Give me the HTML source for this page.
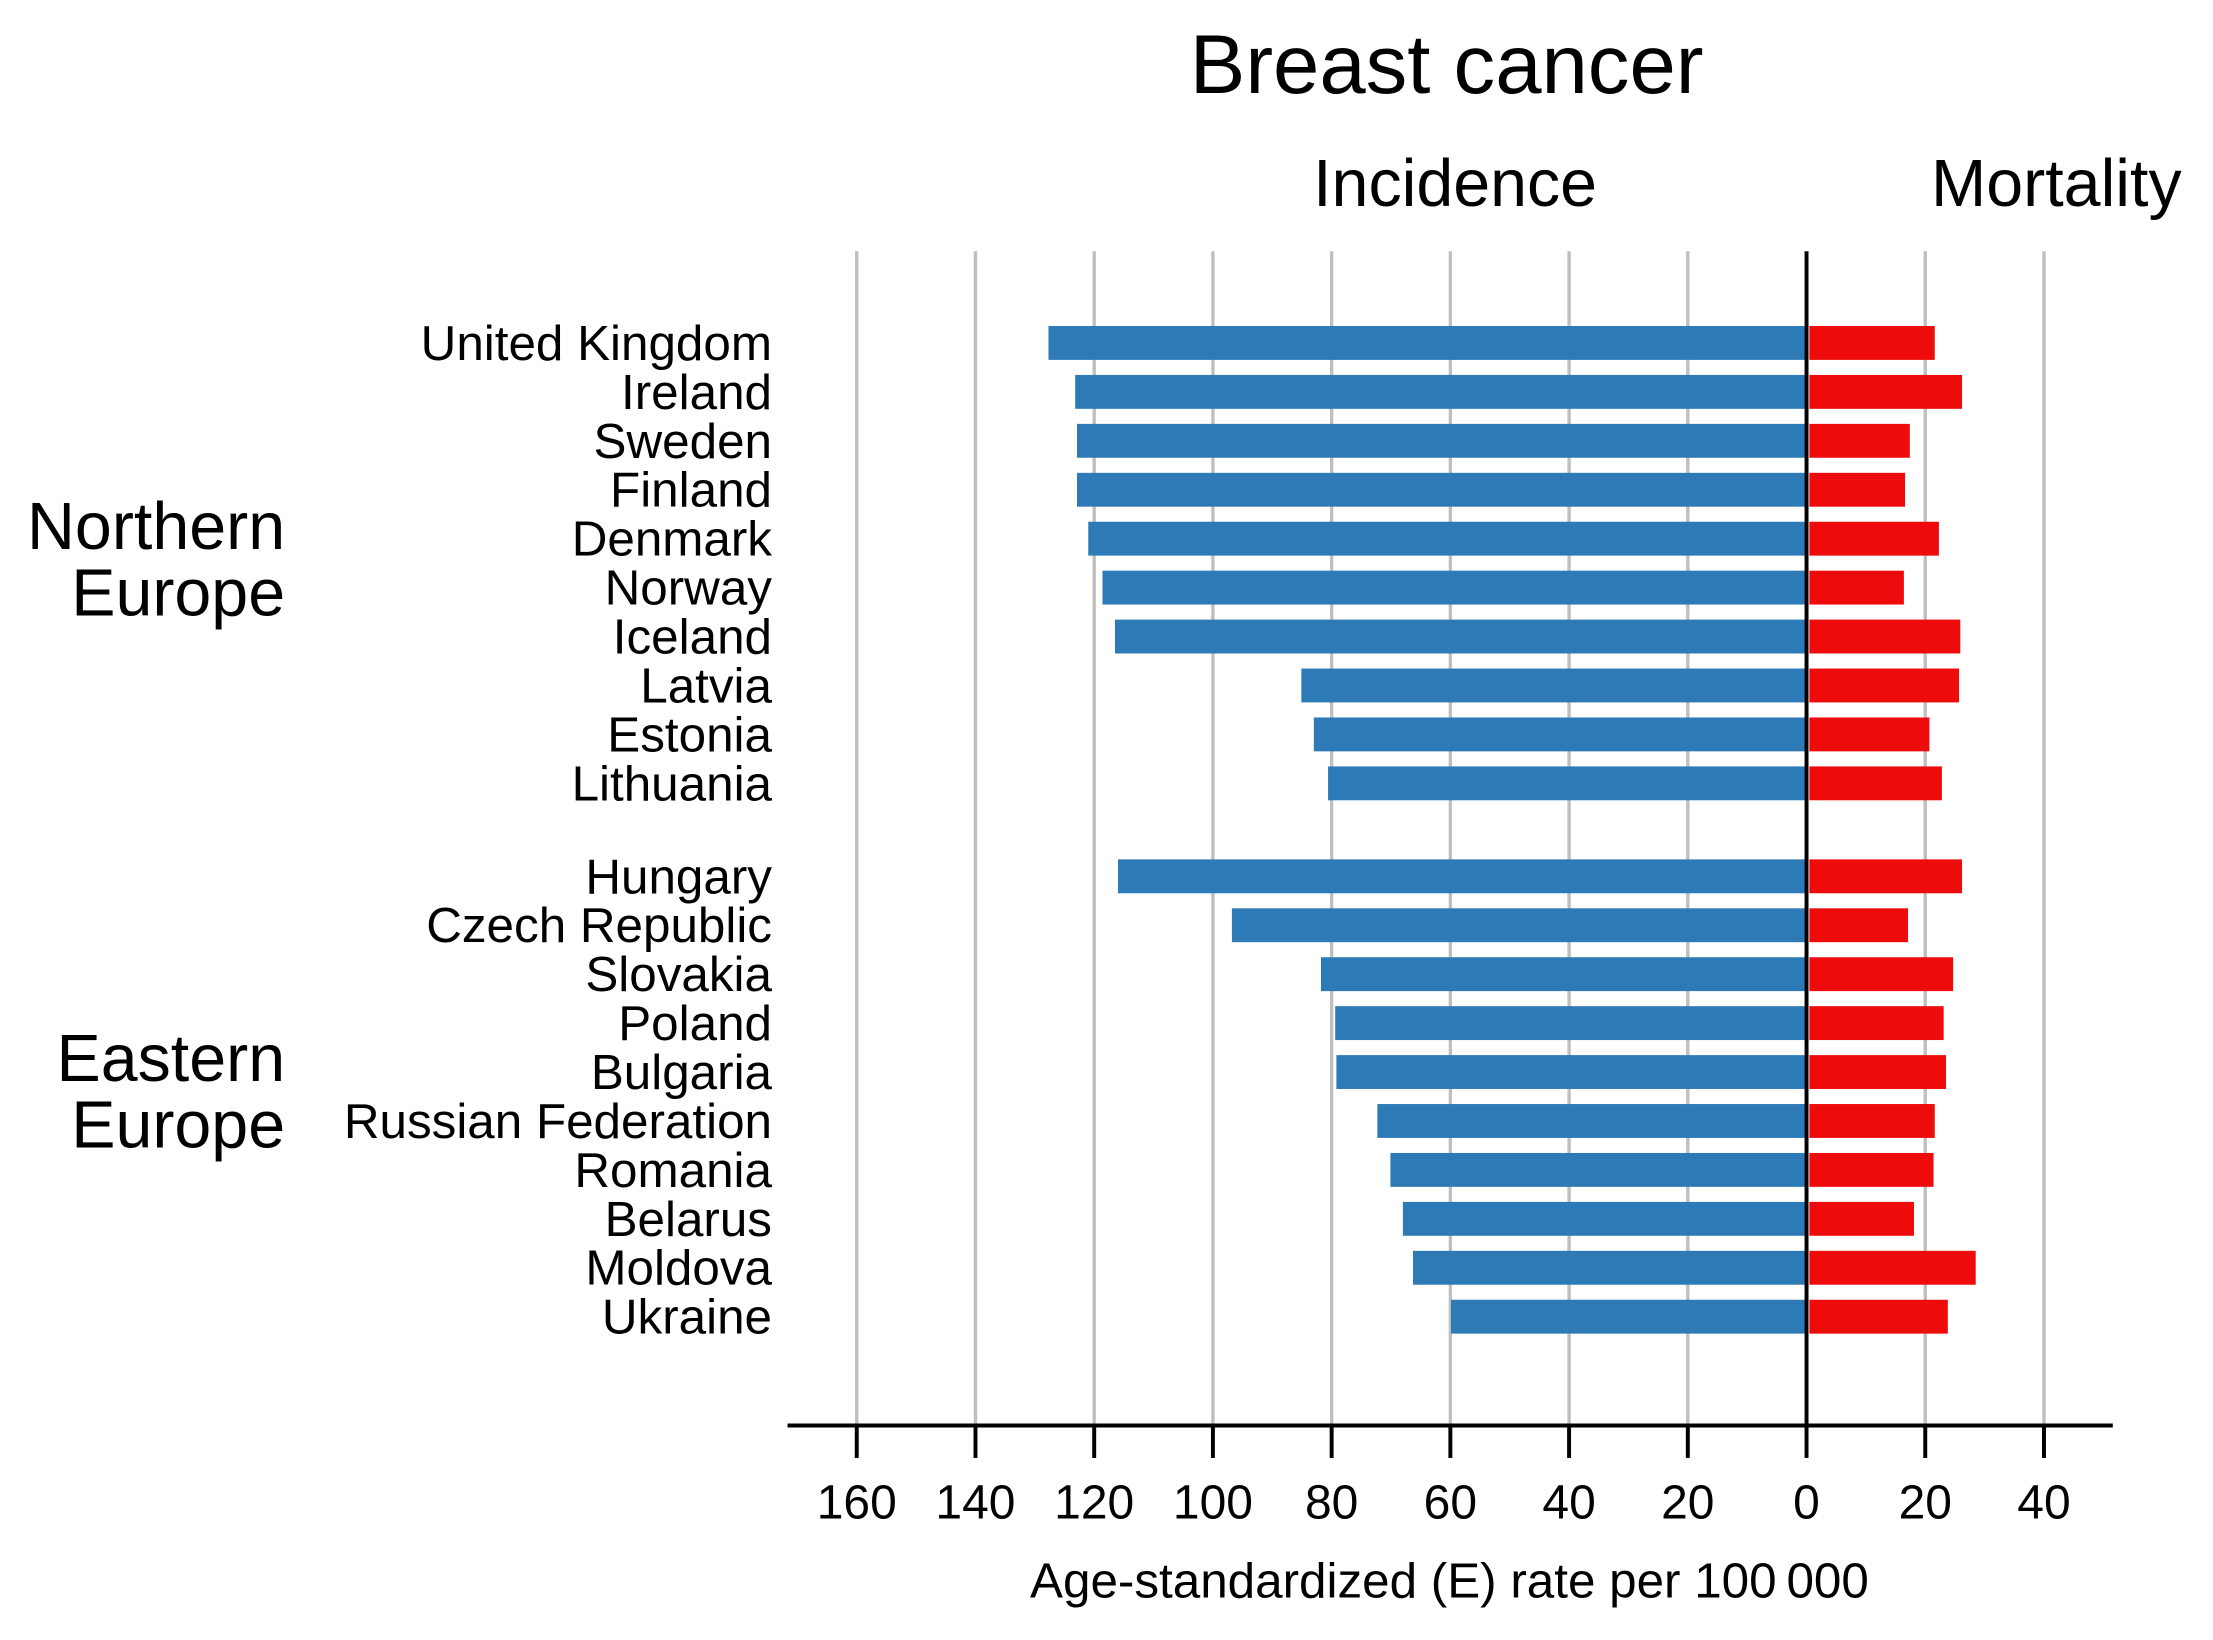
<!DOCTYPE html>
<html><head><meta charset="utf-8">
<style>
html,body{margin:0;padding:0;background:#fff;}
svg{display:block;font-family:"Liberation Sans",Arial,sans-serif;}
</style></head>
<body>
<svg id="chart" width="2213" height="1640" viewBox="0 0 1568 1162" preserveAspectRatio="none" xmlns="http://www.w3.org/2000/svg">
<text x="1025" y="66" font-size="59" text-anchor="middle">Breast cancer</text>
<text x="1031" y="146" font-size="47" text-anchor="middle">Incidence</text>
<text x="1457" y="146" font-size="47" text-anchor="middle">Mortality</text>
<g id="grid"></g>
<g id="bars"></g>
<g id="labels"></g>
<g id="axis"></g>
<text font-size="47" text-anchor="end"><tspan x="202" y="389">Northern</tspan><tspan x="202" y="436">Europe</tspan></text>
<text font-size="47" text-anchor="end"><tspan x="202" y="766">Eastern</tspan><tspan x="202" y="813">Europe</tspan></text>
<text x="1027" y="1132" font-size="35" text-anchor="middle">Age-standardized (E) rate per 100&#8201;000</text>
</svg>
<script>
const countries = ["United Kingdom","Ireland","Sweden","Finland","Denmark","Norway","Iceland","Latvia","Estonia","Lithuania","Hungary","Czech Republic","Slovakia","Poland","Bulgaria","Russian Federation","Romania","Belarus","Moldova","Ukraine"];
const incidence = [127.7,123.2,122.9,122.9,121,118.6,116.5,85.1,83,80.6,116,96.8,81.8,79.4,79.2,72.3,70.1,68,66.3,59.9];
const mortality = [21.6,26.2,17.4,16.6,22.3,16.4,25.9,25.7,20.7,22.8,26.2,17.1,24.7,23.1,23.5,21.6,21.4,18.1,28.5,23.8];
const incTicks = [160,140,120,100,80,60,40,20,0];
const mortTicks = [20,40];

const NS="http://www.w3.org/2000/svg";
const x0=1280, k=4.206;
function xInc(v){return x0 - v*k;}
function xMort(v){return x0 + v*k;}
function yRow(i){return 243 + (i<10 ? i : i+0.9)*34.67;}
function mk(tag,attrs,parent){const e=document.createElementNS(NS,tag);for(const a in attrs)e.setAttribute(a,attrs[a]);parent.appendChild(e);return e;}
const grid=document.getElementById('grid'),bars=document.getElementById('bars'),labels=document.getElementById('labels'),axis=document.getElementById('axis');

const gx=[...incTicks.filter(t=>t>0).map(xInc),...mortTicks.map(xMort)];
gx.forEach(x=>{
  const l=mk('line',{x1:x,x2:x,y1:178,y2:1010,stroke:'#bfbfbf','stroke-width':2.4},grid);
  
  
});

countries.forEach((c,i)=>{
  const y=yRow(i);
  const b1=mk('rect',{x:xInc(incidence[i]),y:y-12,width:incidence[i]*k,height:24,fill:'#2e7ab6'},bars);
  
  
  const b2=mk('rect',{x:x0+2,y:y-12,width:mortality[i]*k-2,height:24,fill:'#ee0b0b'},bars);
  
  
  const t=mk('text',{x:547,y:y+12,'font-size':35,'text-anchor':'end'},labels);
  t.textContent=c;
  
  
});

const zl=mk('line',{x1:x0,x2:x0,y1:178,y2:1010,stroke:'#000','stroke-width':2.8},axis);


const xa=mk('line',{x1:558,x2:1497,y1:1010,y2:1010,stroke:'#000','stroke-width':2.8},axis);


const tickVals=[...incTicks.map(v=>[xInc(v),v]),...mortTicks.map(v=>[xMort(v),v])];
tickVals.forEach(([x,v])=>{
  const tk=mk('line',{x1:x,x2:x,y1:1010,y2:1033,stroke:'#000','stroke-width':2.8},axis);
  
  
  const t=mk('text',{x:x,y:1076,'font-size':34,'text-anchor':'middle'},axis);
  t.textContent=v;
  
  
});
</script>
</body></html>
